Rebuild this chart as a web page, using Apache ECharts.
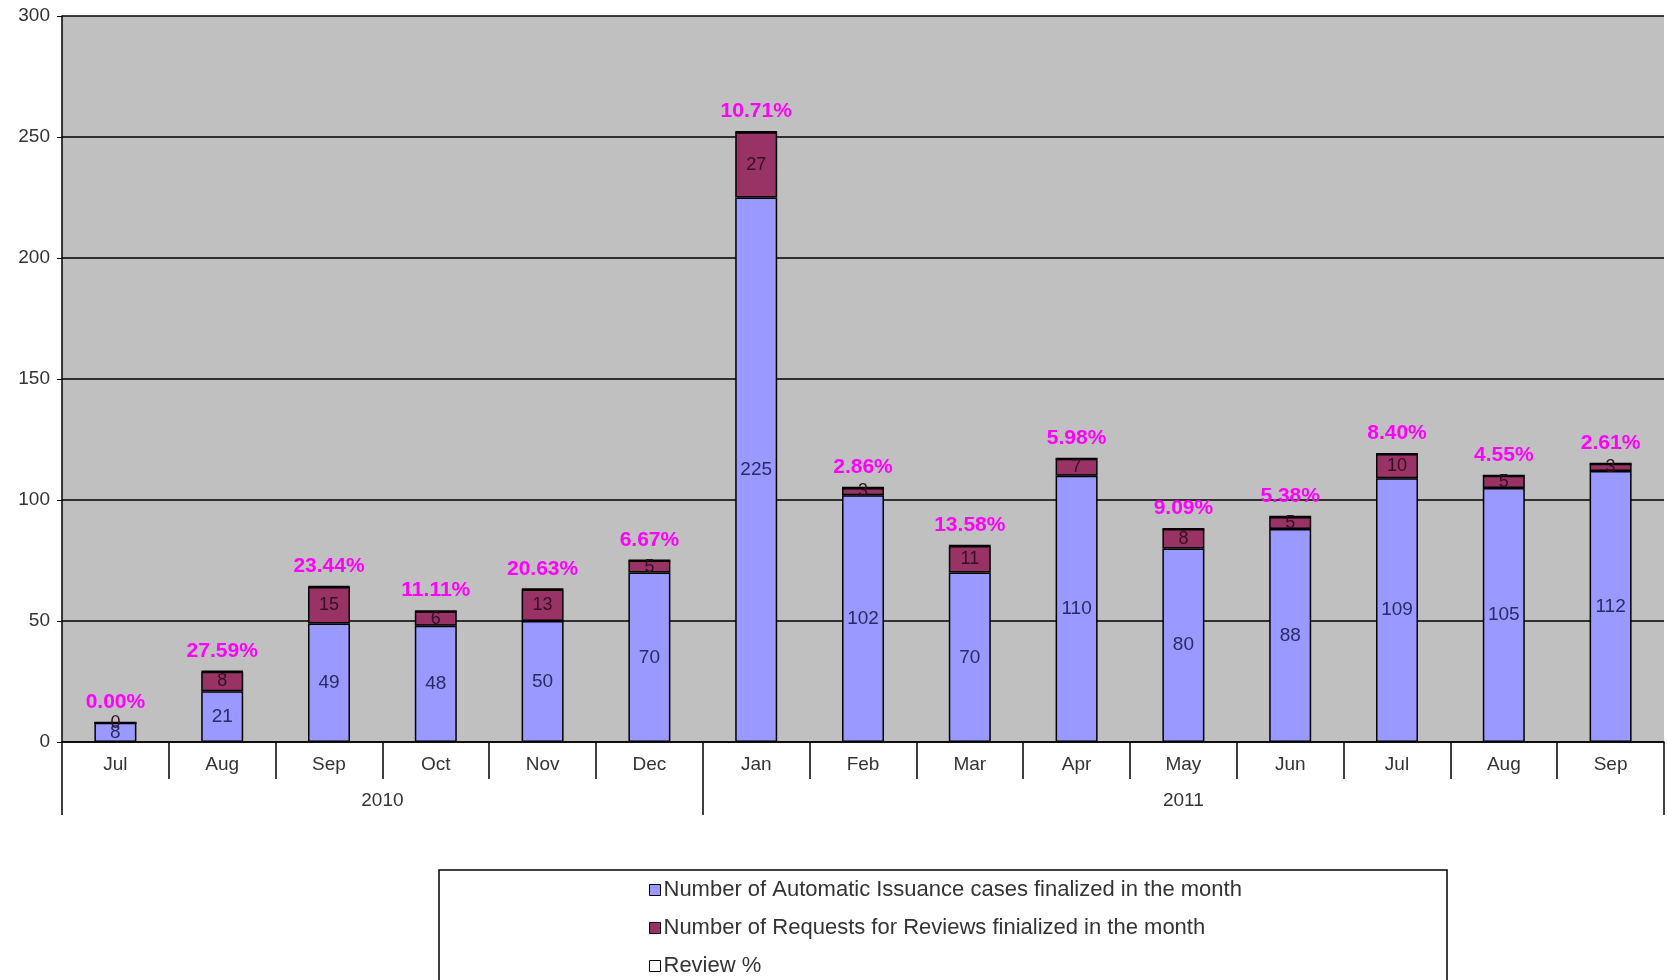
<!DOCTYPE html>
<html>
<head>
<meta charset="utf-8">
<script src="https://cdn.jsdelivr.net/npm/echarts@6/dist/echarts.min.js"></script>
<style>html,body{margin:0;padding:0;background:#fff;}#c{width:1667px;height:980px;}</style>
</head>
<body>
<div id="c"></div>
<script>
var months = ['Jul','Aug','Sep','Oct','Nov','Dec','Jan','Feb','Mar','Apr','May','Jun','Jul','Aug','Sep'];
var years = ['2010','2011'];
var automatic = [8,21,49,48,50,70,225,102,70,110,80,88,109,105,112];
var reviews = [0,8,15,6,13,5,27,3,11,7,8,5,10,5,3];
var reviewPct = [0.00,27.59,23.44,11.11,20.63,6.67,10.71,2.86,13.58,5.98,9.09,5.38,8.40,4.55,2.61];
var yTicks = [0,50,100,150,200,250,300];

var FONT = '"Liberation Sans", Arial, sans-serif';
var chart = echarts.init(document.getElementById('c'));
chart.setOption({
  animation: false,
  textStyle: {fontFamily: FONT},
  grid: {left: 62, right: 3, top: 16, bottom: 238, show: true, backgroundColor: '#c0c0c0', borderWidth: 0},
  xAxis: [{
    type: 'category',
    data: months,
    position: 'bottom',
    axisLine: {lineStyle: {color: '#000', width: 1.5}},
    axisTick: {show: true, length: 37, lineStyle: {color: '#000', width: 1.5}},
    axisLabel: {color: '#333', fontSize: 19, margin: 13, fontFamily: FONT}
  }, {
    type: 'value',
    min: 0, max: 15,
    position: 'bottom',
    axisLine: {show: false},
    splitLine: {show: false},
    axisTick: {show: true, length: 73, customValues: [0, 6, 15], lineStyle: {color: '#000', width: 1.5}},
    axisLabel: {show: true, customValues: [3, 10.5], margin: 49, color: '#333', fontSize: 19, fontFamily: FONT,
      formatter: function (v) { return v < 6 ? years[0] : years[1]; }}
  }],
  yAxis: {
    type: 'value',
    min: yTicks[0], max: yTicks[yTicks.length - 1], interval: 50,
    axisLine: {show: true, lineStyle: {color: '#000', width: 1.5}},
    axisTick: {show: true, length: 5, lineStyle: {color: '#000'}},
    axisLabel: {color: '#333', fontSize: 19, margin: 12, fontFamily: FONT},
    splitLine: {show: true, lineStyle: {color: '#000', width: 1.5}}
  },
  legend: {
    orient: 'vertical',
    left: 649, top: 879,
    padding: 0,
    itemWidth: 11, itemHeight: 11,
    itemGap: 16,
    icon: 'rect',
    textStyle: {fontSize: 22, color: '#333', fontFamily: FONT, padding: [0, 0, 0, -2]},
    itemStyle: {borderColor: '#000', borderWidth: 1},
    data: ['Number of Automatic Issuance cases finalized in the month',
           'Number of Requests for Reviews finialized in the month',
           'Review %']
  },
  graphic: [{
    type: 'rect', z: -1,
    shape: {x: 439, y: 870, width: 1008, height: 130},
    style: {fill: '#fff', stroke: '#000', lineWidth: 1.5}
  }],
  series: [{
    name: 'Number of Automatic Issuance cases finalized in the month',
    type: 'bar', stack: 'a', barWidth: 42,
    data: automatic,
    itemStyle: {color: '#9999ff', borderColor: '#000', borderWidth: 1.5},
    label: {show: true, position: 'inside', color: '#2a2a66', fontSize: 19, fontFamily: FONT}
  }, {
    name: 'Number of Requests for Reviews finialized in the month',
    type: 'bar', stack: 'a', barWidth: 42,
    data: reviews,
    itemStyle: {color: '#993366', borderColor: '#000', borderWidth: 1.5},
    label: {show: true, position: 'inside', color: '#331122', fontSize: 18, fontFamily: FONT}
  }, {
    name: 'Review %',
    type: 'bar', stack: 'a', barWidth: 42,
    data: reviewPct.map(function (p) { return p / 100; }),
    itemStyle: {color: '#fff', borderColor: '#000', borderWidth: 2},
    label: {show: true, position: 'top', distance: 9, color: '#ff00ff', fontSize: 21, fontWeight: 'bold', fontFamily: FONT,
      formatter: function (p) { return reviewPct[p.dataIndex].toFixed(2) + '%'; }}
  }]
});
</script>
</body>
</html>
